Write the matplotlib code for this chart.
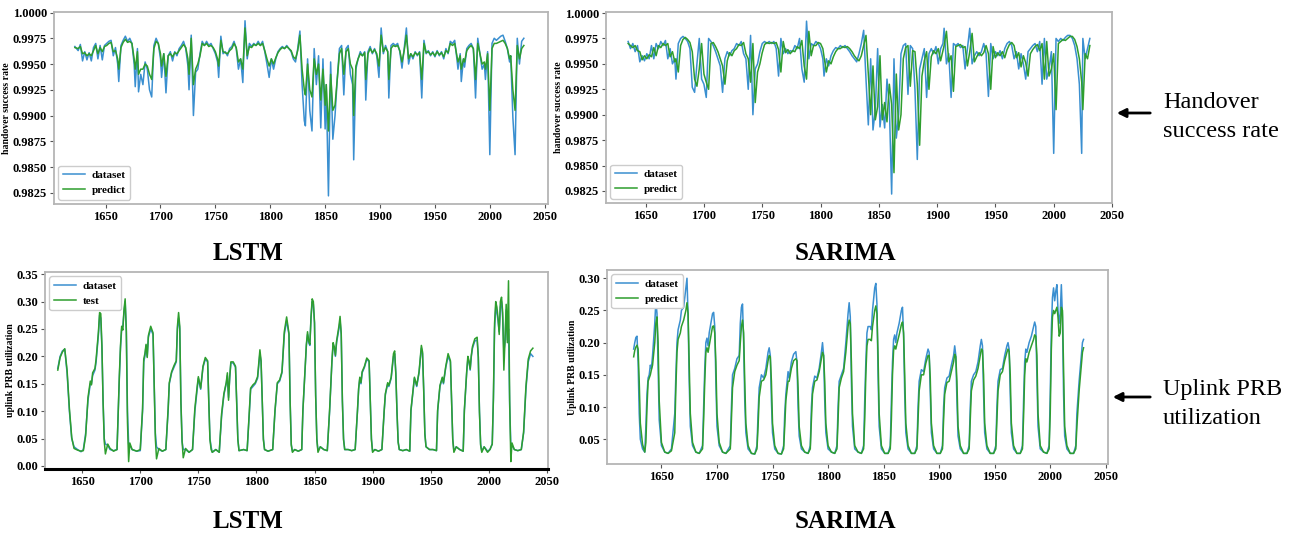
import matplotlib
matplotlib.use("Agg")
import matplotlib.pyplot as plt
from matplotlib.patches import FancyArrowPatch
from matplotlib.ticker import FormatStrFormatter, MultipleLocator

plt.rcParams['font.family'] = ['Liberation Serif', 'DejaVu Serif']

BLUE = '#3a8fd0'
GREEN = '#2e9e2e'

# ---- handover success rate, LSTM ----
ho_lstm_x = [1622, 1625, 1627, 1629, 1631, 1633, 1635, 1637, 1639, 1641,
             1643, 1645, 1647, 1649, 1651, 1653, 1655, 1657, 1659, 1661,
             1662, 1664, 1666, 1668, 1670, 1672, 1674, 1676, 1677, 1679,
             1680, 1682, 1684, 1686, 1688, 1690, 1692, 1694, 1696, 1698,
             1700, 1701, 1703, 1705, 1707, 1709, 1711, 1713, 1715, 1717,
             1719, 1721, 1723, 1725, 1726, 1728, 1730, 1732, 1734, 1736,
             1738, 1740, 1742, 1744, 1746, 1748, 1750, 1752, 1753, 1755,
             1757, 1759, 1761, 1763, 1765, 1767, 1769, 1771, 1773, 1775,
             1777, 1779, 1781, 1783, 1785, 1787, 1789, 1791, 1793, 1795,
             1797, 1799, 1801, 1803, 1805, 1807, 1809, 1811, 1813, 1815,
             1817, 1819, 1821, 1823, 1825, 1827, 1829, 1831, 1832, 1834,
             1836, 1838, 1840, 1842, 1844, 1846, 1848, 1850, 1851, 1853,
             1855, 1857, 1859, 1861, 1863, 1865, 1867, 1869, 1871, 1873,
             1875, 1876, 1878, 1880, 1882, 1884, 1886, 1887, 1889, 1891,
             1893, 1895, 1897, 1899, 1901, 1903, 1905, 1907, 1908, 1910,
             1912, 1914, 1916, 1918, 1920, 1922, 1924, 1926, 1928, 1930,
             1932, 1934, 1936, 1938, 1940, 1942, 1944, 1946, 1948, 1950,
             1952, 1954, 1956, 1958, 1960, 1962, 1964, 1966, 1968, 1970,
             1971, 1973, 1974, 1976, 1977, 1979, 1981, 1983, 1985, 1987,
             1989, 1991, 1993, 1995, 1996, 1998, 2000, 2002, 2004, 2006,
             2008, 2010, 2012, 2014, 2016, 2018, 2019, 2021, 2023, 2025,
             2027, 2029, 2031]
ho_lstm_data = [0.9967, 0.9963, 0.9969, 0.9953, 0.9962, 0.9954, 0.9961, 0.9953, 0.9966, 0.9970,
                0.9955, 0.9968, 0.9954, 0.9968, 0.9970, 0.9972, 0.9973, 0.9958, 0.9966, 0.9950,
                0.9933, 0.9968, 0.9973, 0.9977, 0.9972, 0.9975, 0.9970, 0.9950, 0.9928, 0.9965,
                0.9923, 0.9940, 0.9930, 0.9952, 0.9945, 0.9925, 0.9918, 0.9968, 0.9975, 0.9970,
                0.9955, 0.9937, 0.9960, 0.9922, 0.9958, 0.9962, 0.9953, 0.9962, 0.9958, 0.9965,
                0.9968, 0.9972, 0.9965, 0.9948, 0.9925, 0.9978, 0.9900, 0.9942, 0.9945, 0.9960,
                0.9972, 0.9968, 0.9972, 0.9968, 0.9970, 0.9965, 0.9960, 0.9952, 0.9937, 0.9977,
                0.9960, 0.9962, 0.9958, 0.9965, 0.9967, 0.9972, 0.9965, 0.9945, 0.9955, 0.9932,
                0.9992, 0.9955, 0.9970, 0.9967, 0.9970, 0.9968, 0.9972, 0.9968, 0.9972, 0.9962,
                0.9950, 0.9937, 0.9955, 0.9945, 0.9955, 0.9962, 0.9965, 0.9967, 0.9965, 0.9968,
                0.9965, 0.9962, 0.9955, 0.9952, 0.9965, 0.9982, 0.9930, 0.9895, 0.9890, 0.9955,
                0.9905, 0.9885, 0.9965, 0.9930, 0.9958, 0.9888, 0.9955, 0.9887, 0.9930, 0.9822,
                0.9952, 0.9877, 0.9900, 0.9935, 0.9965, 0.9968, 0.9920, 0.9965, 0.9968, 0.9940,
                0.9930, 0.9857, 0.9945, 0.9955, 0.9962, 0.9958, 0.9962, 0.9915, 0.9962, 0.9967,
                0.9960, 0.9965, 0.9958, 0.9937, 0.9985, 0.9960, 0.9968, 0.9962, 0.9917, 0.9968,
                0.9970, 0.9968, 0.9970, 0.9962, 0.9946, 0.9965, 0.9985, 0.9950, 0.9960, 0.9955,
                0.9962, 0.9958, 0.9962, 0.9917, 0.9973, 0.9960, 0.9963, 0.9958, 0.9962, 0.9957,
                0.9963, 0.9958, 0.9962, 0.9955, 0.9965, 0.9960, 0.9972, 0.9970, 0.9973, 0.9955,
                0.9945, 0.9960, 0.9933, 0.9955, 0.9947, 0.9965, 0.9968, 0.9970, 0.9965, 0.9917,
                0.9975, 0.9960, 0.9945, 0.9950, 0.9935, 0.9962, 0.9862, 0.9970, 0.9975, 0.9973,
                0.9975, 0.9977, 0.9978, 0.9972, 0.9965, 0.9952, 0.9958, 0.9898, 0.9862, 0.9975,
                0.9950, 0.9972, 0.9975]
ho_lstm_pred = [0.9966, 0.9965, 0.9967, 0.9960, 0.9961, 0.9958, 0.9960, 0.9958, 0.9963, 0.9968,
                0.9960, 0.9966, 0.9962, 0.9967, 0.9968, 0.9970, 0.9971, 0.9962, 0.9963, 0.9955,
                0.9945, 0.9966, 0.9971, 0.9974, 0.9971, 0.9972, 0.9970, 0.9955, 0.9945, 0.9962,
                0.9940, 0.9945, 0.9945, 0.9950, 0.9948, 0.9940, 0.9935, 0.9965, 0.9972, 0.9970,
                0.9960, 0.9948, 0.9960, 0.9938, 0.9958, 0.9960, 0.9957, 0.9961, 0.9960, 0.9963,
                0.9966, 0.9969, 0.9966, 0.9955, 0.9940, 0.9975, 0.9930, 0.9945, 0.9950, 0.9958,
                0.9970, 0.9968, 0.9970, 0.9967, 0.9968, 0.9966, 0.9962, 0.9955, 0.9948, 0.9973,
                0.9962, 0.9961, 0.9960, 0.9963, 0.9965, 0.9970, 0.9966, 0.9952, 0.9955, 0.9945,
                0.9985, 0.9958, 0.9967, 0.9966, 0.9969, 0.9968, 0.9970, 0.9968, 0.9970, 0.9963,
                0.9955, 0.9948, 0.9955, 0.9950, 0.9956, 0.9961, 0.9964, 0.9966, 0.9965, 0.9967,
                0.9965, 0.9963, 0.9957, 0.9955, 0.9963, 0.9978, 0.9945, 0.9925, 0.9920, 0.9950,
                0.9925, 0.9918, 0.9955, 0.9940, 0.9950, 0.9915, 0.9945, 0.9910, 0.9930, 0.9885,
                0.9940, 0.9905, 0.9910, 0.9935, 0.9960, 0.9965, 0.9940, 0.9962, 0.9965, 0.9950,
                0.9945, 0.9900, 0.9948, 0.9955, 0.9960, 0.9958, 0.9961, 0.9935, 0.9960, 0.9965,
                0.9961, 0.9964, 0.9960, 0.9948, 0.9978, 0.9962, 0.9966, 0.9962, 0.9935, 0.9965,
                0.9968, 0.9967, 0.9968, 0.9963, 0.9952, 0.9963, 0.9978, 0.9955, 0.9960, 0.9957,
                0.9961, 0.9959, 0.9961, 0.9935, 0.9970, 0.9961, 0.9962, 0.9959, 0.9961, 0.9958,
                0.9962, 0.9959, 0.9961, 0.9957, 0.9963, 0.9961, 0.9970, 0.9968, 0.9970, 0.9958,
                0.9952, 0.9958, 0.9945, 0.9955, 0.9952, 0.9963, 0.9966, 0.9968, 0.9965, 0.9935,
                0.9970, 0.9960, 0.9950, 0.9952, 0.9945, 0.9960, 0.9905, 0.9965, 0.9970, 0.9970,
                0.9971, 0.9972, 0.9973, 0.9970, 0.9965, 0.9955, 0.9958, 0.9925, 0.9905, 0.9968,
                0.9955, 0.9965, 0.9968]

# ---- handover success rate, SARIMA ----
ho_sar_x = [1635, 1637, 1639, 1641, 1643, 1645, 1647, 1649, 1651, 1653,
            1655, 1657, 1659, 1661, 1663, 1665, 1667, 1669, 1671, 1673,
            1675, 1676, 1678, 1680, 1682, 1684, 1686, 1688, 1690, 1692,
            1694, 1696, 1698, 1700, 1702, 1704, 1706, 1708, 1710, 1712,
            1714, 1716, 1718, 1720, 1722, 1724, 1726, 1728, 1730, 1732,
            1734, 1736, 1738, 1740, 1742, 1744, 1746, 1748, 1750, 1752,
            1754, 1756, 1758, 1760, 1762, 1764, 1766, 1768, 1770, 1772,
            1774, 1776, 1778, 1780, 1782, 1784, 1786, 1788, 1790, 1792,
            1794, 1796, 1798, 1800, 1802, 1803, 1805, 1807, 1809, 1811,
            1813, 1815, 1817, 1819, 1821, 1823, 1825, 1827, 1829, 1831,
            1833, 1835, 1837, 1839, 1841, 1843, 1845, 1847, 1849, 1851,
            1853, 1855, 1857, 1859, 1861, 1863, 1865, 1867, 1869, 1871,
            1873, 1875, 1877, 1879, 1881, 1883, 1885, 1887, 1889, 1891,
            1893, 1895, 1897, 1899, 1901, 1903, 1905, 1906, 1908, 1910,
            1912, 1914, 1916, 1918, 1920, 1922, 1924, 1926, 1928, 1930,
            1932, 1934, 1936, 1938, 1940, 1942, 1944, 1946, 1948, 1950,
            1952, 1954, 1956, 1958, 1960, 1962, 1964, 1966, 1968, 1970,
            1972, 1974, 1976, 1978, 1980, 1982, 1984, 1986, 1988, 1990,
            1992, 1994, 1996, 1998, 2000, 2002, 2004, 2006, 2008, 2010,
            2012, 2014, 2016, 2018, 2020, 2022, 2024, 2025, 2027, 2029,
            2031]
ho_sar_data = [0.9972, 0.9965, 0.9970, 0.9962, 0.9968, 0.9952, 0.9958, 0.9953, 0.9960, 0.9955,
               0.9968, 0.9955, 0.9970, 0.9965, 0.9972, 0.9968, 0.9973, 0.9955, 0.9965, 0.9950,
               0.9955, 0.9935, 0.9970, 0.9975, 0.9977, 0.9975, 0.9972, 0.9965, 0.9927, 0.9922,
               0.9950, 0.9975, 0.9935, 0.9930, 0.9917, 0.9975, 0.9972, 0.9968, 0.9962, 0.9955,
               0.9948, 0.9922, 0.9955, 0.9962, 0.9958, 0.9963, 0.9965, 0.9970, 0.9968, 0.9972,
               0.9960, 0.9955, 0.9925, 0.9978, 0.9900, 0.9945, 0.9950, 0.9962, 0.9970, 0.9972,
               0.9970, 0.9972, 0.9970, 0.9972, 0.9965, 0.9938, 0.9975, 0.9960, 0.9965, 0.9960,
               0.9963, 0.9962, 0.9968, 0.9965, 0.9975, 0.9945, 0.9932, 0.9992, 0.9955, 0.9970,
               0.9968, 0.9972, 0.9970, 0.9965, 0.9955, 0.9938, 0.9955, 0.9948, 0.9958, 0.9963,
               0.9966, 0.9965, 0.9968, 0.9966, 0.9968, 0.9965, 0.9962, 0.9958, 0.9955, 0.9952,
               0.9960, 0.9970, 0.9983, 0.9935, 0.9890, 0.9955, 0.9885, 0.9905, 0.9965, 0.9888,
               0.9910, 0.9887, 0.9935, 0.9910, 0.9822, 0.9955, 0.9877, 0.9900, 0.9960, 0.9968,
               0.9970, 0.9920, 0.9968, 0.9965, 0.9925, 0.9856, 0.9945, 0.9955, 0.9965, 0.9917,
               0.9960, 0.9965, 0.9960, 0.9967, 0.9950, 0.9965, 0.9970, 0.9985, 0.9950, 0.9960,
               0.9917, 0.9970, 0.9968, 0.9970, 0.9966, 0.9968, 0.9945, 0.9965, 0.9985, 0.9950,
               0.9958, 0.9962, 0.9958, 0.9962, 0.9970, 0.9960, 0.9918, 0.9970, 0.9955, 0.9962,
               0.9958, 0.9963, 0.9955, 0.9965, 0.9970, 0.9972, 0.9968, 0.9955, 0.9962, 0.9945,
               0.9960, 0.9950, 0.9935, 0.9962, 0.9965, 0.9968, 0.9970, 0.9962, 0.9972, 0.9930,
               0.9975, 0.9935, 0.9945, 0.9962, 0.9862, 0.9975, 0.9972, 0.9975, 0.9973, 0.9976,
               0.9978, 0.9978, 0.9975, 0.9968, 0.9955, 0.9930, 0.9862, 0.9975, 0.9955, 0.9965,
               0.9975]
ho_sar_pred = [0.9970, 0.9968, 0.9966, 0.9968, 0.9963, 0.9962, 0.9954, 0.9958, 0.9955, 0.9959,
               0.9957, 0.9966, 0.9958, 0.9968, 0.9966, 0.9970, 0.9968, 0.9970, 0.9957, 0.9962,
               0.9952, 0.9955, 0.9942, 0.9968, 0.9974, 0.9976, 0.9974, 0.9971, 0.9962, 0.9935,
               0.9928, 0.9945, 0.9970, 0.9940, 0.9932, 0.9925, 0.9970, 0.9971, 0.9967, 0.9962,
               0.9955, 0.9948, 0.9930, 0.9953, 0.9961, 0.9958, 0.9963, 0.9965, 0.9969, 0.9968,
               0.9971, 0.9960, 0.9955, 0.9932, 0.9970, 0.9912, 0.9942, 0.9950, 0.9961, 0.9969,
               0.9971, 0.9970, 0.9971, 0.9970, 0.9971, 0.9964, 0.9942, 0.9972, 0.9961, 0.9964,
               0.9960, 0.9963, 0.9962, 0.9967, 0.9965, 0.9973, 0.9948, 0.9935, 0.9982, 0.9958,
               0.9968, 0.9968, 0.9971, 0.9970, 0.9965, 0.9957, 0.9942, 0.9953, 0.9950, 0.9957,
               0.9962, 0.9965, 0.9965, 0.9967, 0.9966, 0.9967, 0.9965, 0.9962, 0.9958, 0.9955,
               0.9953, 0.9958, 0.9968, 0.9978, 0.9940, 0.9900, 0.9948, 0.9895, 0.9908, 0.9958,
               0.9895, 0.9912, 0.9893, 0.9930, 0.9910, 0.9843, 0.9940, 0.9885, 0.9900, 0.9955,
               0.9966, 0.9968, 0.9928, 0.9963, 0.9962, 0.9930, 0.9870, 0.9938, 0.9953, 0.9962,
               0.9925, 0.9957, 0.9963, 0.9960, 0.9965, 0.9953, 0.9963, 0.9968, 0.9982, 0.9952,
               0.9958, 0.9923, 0.9967, 0.9968, 0.9969, 0.9966, 0.9967, 0.9948, 0.9962, 0.9980,
               0.9952, 0.9957, 0.9961, 0.9958, 0.9961, 0.9968, 0.9960, 0.9925, 0.9967, 0.9956,
               0.9961, 0.9958, 0.9962, 0.9956, 0.9964, 0.9969, 0.9971, 0.9968, 0.9956, 0.9961,
               0.9947, 0.9958, 0.9951, 0.9938, 0.9960, 0.9964, 0.9967, 0.9969, 0.9963, 0.9970,
               0.9935, 0.9972, 0.9938, 0.9945, 0.9960, 0.9905, 0.9970, 0.9972, 0.9974, 0.9973,
               0.9975, 0.9977, 0.9977, 0.9974, 0.9967, 0.9955, 0.9932, 0.9905, 0.9960, 0.9955,
               0.9968]

# ---- uplink PRB utilization, LSTM ----
prb_lstm_x = [1629, 1631, 1633, 1635, 1637, 1639, 1641, 1643, 1646, 1649, 1651, 1653,
              1655, 1657, 1658, 1659, 1661, 1662, 1664, 1665, 1666, 1667, 1668, 1669, 1670, 1672, 1674, 1677, 1680,
              1681, 1682, 1683, 1684, 1685, 1686, 1687, 1688, 1689, 1690, 1691, 1693, 1697, 1700,
              1702, 1703, 1704, 1705, 1706, 1707, 1709, 1711, 1712, 1713, 1714, 1716, 1719, 1722,
              1724, 1725, 1727, 1729, 1731, 1732, 1733, 1734, 1735, 1736, 1737, 1739, 1742, 1745,
              1747, 1749, 1750, 1752, 1754, 1756, 1758, 1759, 1760, 1761, 1762, 1765, 1768,
              1770, 1772, 1774, 1775, 1776, 1777, 1778, 1780, 1782, 1783, 1784, 1785, 1789, 1792,
              1794, 1795, 1797, 1799, 1801, 1803, 1804, 1805, 1806, 1807, 1810, 1814,
              1816, 1818, 1820, 1822, 1824, 1826, 1828, 1829, 1830, 1831, 1833, 1836, 1839,
              1840, 1842, 1843, 1844, 1845, 1846, 1847, 1848, 1849, 1850, 1851, 1852, 1853, 1855, 1858, 1861,
              1863, 1865, 1866, 1867, 1868, 1869, 1871, 1872, 1873, 1874, 1875, 1876, 1879, 1882, 1885,
              1887, 1888, 1889, 1890, 1891, 1893, 1895, 1897, 1898, 1899, 1900, 1902, 1905, 1908,
              1910, 1911, 1913, 1914, 1916, 1918, 1919, 1920, 1921, 1922, 1923, 1926, 1929, 1932,
              1933, 1935, 1936, 1938, 1940, 1942, 1943, 1944, 1945, 1946, 1949, 1952, 1955,
              1956, 1958, 1960, 1961, 1963, 1965, 1967, 1968, 1969, 1970, 1972, 1975, 1978,
              1979, 1981, 1982, 1983, 1984, 1985, 1986, 1988, 1990, 1991, 1992, 1993, 1994, 1996, 1999, 2001, 2003,
              2004, 2005, 2006, 2007, 2008, 2009, 2010, 2011, 2012, 2013, 2014, 2015, 2016, 2017, 2018, 2019,
              2020, 2022, 2025, 2028, 2030, 2032, 2034, 2036, 2038]
prb_lstm_data = [0.178, 0.200, 0.210, 0.213, 0.170, 0.100, 0.050, 0.035, 0.030, 0.026, 0.030, 0.060,
                 0.120, 0.150, 0.150, 0.165, 0.175, 0.190, 0.240, 0.275, 0.270, 0.215, 0.120, 0.050, 0.040, 0.038, 0.030, 0.028, 0.030,
                 0.095, 0.160, 0.215, 0.250, 0.255, 0.280, 0.300, 0.250, 0.100, 0.040, 0.038, 0.030, 0.027, 0.028,
                 0.100, 0.190, 0.200, 0.220, 0.200, 0.235, 0.250, 0.240, 0.150, 0.060, 0.035, 0.030, 0.027, 0.030,
                 0.100, 0.150, 0.170, 0.180, 0.190, 0.250, 0.270, 0.250, 0.120, 0.045, 0.030, 0.030, 0.025, 0.030,
                 0.100, 0.140, 0.160, 0.140, 0.180, 0.195, 0.190, 0.120, 0.050, 0.035, 0.025, 0.030, 0.025,
                 0.090, 0.130, 0.150, 0.165, 0.125, 0.160, 0.188, 0.188, 0.180, 0.120, 0.050, 0.028, 0.030, 0.028,
                 0.100, 0.140, 0.145, 0.150, 0.160, 0.205, 0.190, 0.120, 0.050, 0.030, 0.027, 0.030,
                 0.100, 0.150, 0.155, 0.170, 0.240, 0.265, 0.240, 0.120, 0.040, 0.027, 0.030, 0.027, 0.030,
                 0.100, 0.180, 0.220, 0.240, 0.225, 0.220, 0.270, 0.300, 0.295, 0.260, 0.130, 0.050, 0.028, 0.035, 0.030, 0.028,
                 0.100, 0.190, 0.220, 0.215, 0.200, 0.225, 0.250, 0.265, 0.240, 0.120, 0.050, 0.030, 0.030, 0.028, 0.030,
                 0.100, 0.140, 0.160, 0.150, 0.170, 0.180, 0.195, 0.190, 0.120, 0.050, 0.027, 0.030, 0.027, 0.030,
                 0.100, 0.130, 0.150, 0.145, 0.160, 0.200, 0.205, 0.170, 0.100, 0.045, 0.030, 0.028, 0.030, 0.027,
                 0.100, 0.140, 0.160, 0.145, 0.170, 0.215, 0.205, 0.140, 0.060, 0.035, 0.030, 0.030, 0.028,
                 0.100, 0.145, 0.160, 0.150, 0.180, 0.200, 0.190, 0.120, 0.050, 0.027, 0.035, 0.030, 0.027,
                 0.100, 0.170, 0.195, 0.190, 0.175, 0.200, 0.215, 0.228, 0.230, 0.200, 0.100, 0.040, 0.027, 0.035, 0.027, 0.030, 0.040,
                 0.120, 0.250, 0.290, 0.280, 0.265, 0.245, 0.290, 0.300, 0.270, 0.210, 0.225, 0.285, 0.230, 0.250, 0.110, 0.040,
                 0.038, 0.030, 0.028, 0.030, 0.060, 0.140, 0.190, 0.205, 0.200]
prb_lstm_test = [0.175, 0.198, 0.208, 0.214, 0.175, 0.105, 0.052, 0.032, 0.029, 0.027, 0.028, 0.055,
                 0.125, 0.155, 0.148, 0.170, 0.178, 0.195, 0.245, 0.280, 0.278, 0.220, 0.115, 0.045, 0.022, 0.040, 0.032, 0.027, 0.030,
                 0.100, 0.165, 0.220, 0.255, 0.248, 0.285, 0.305, 0.245, 0.080, 0.008, 0.042, 0.030, 0.027, 0.030,
                 0.105, 0.195, 0.205, 0.222, 0.198, 0.238, 0.255, 0.243, 0.145, 0.050, 0.013, 0.032, 0.027, 0.030,
                 0.105, 0.152, 0.172, 0.183, 0.192, 0.255, 0.280, 0.255, 0.115, 0.045, 0.015, 0.032, 0.025, 0.030,
                 0.105, 0.145, 0.163, 0.142, 0.182, 0.198, 0.192, 0.115, 0.048, 0.030, 0.025, 0.030, 0.025,
                 0.095, 0.132, 0.152, 0.170, 0.120, 0.163, 0.190, 0.190, 0.182, 0.118, 0.048, 0.028, 0.030, 0.028,
                 0.102, 0.142, 0.148, 0.152, 0.163, 0.212, 0.192, 0.118, 0.048, 0.030, 0.027, 0.030,
                 0.102, 0.152, 0.157, 0.172, 0.245, 0.272, 0.242, 0.118, 0.038, 0.025, 0.030, 0.027, 0.030,
                 0.102, 0.182, 0.222, 0.245, 0.228, 0.222, 0.272, 0.305, 0.300, 0.262, 0.128, 0.048, 0.025, 0.035, 0.030, 0.028,
                 0.102, 0.192, 0.225, 0.218, 0.202, 0.228, 0.255, 0.273, 0.242, 0.118, 0.048, 0.030, 0.030, 0.028, 0.030,
                 0.102, 0.142, 0.162, 0.152, 0.172, 0.182, 0.197, 0.192, 0.118, 0.048, 0.025, 0.030, 0.027, 0.030,
                 0.102, 0.132, 0.152, 0.147, 0.162, 0.205, 0.210, 0.168, 0.098, 0.043, 0.030, 0.028, 0.030, 0.027,
                 0.102, 0.142, 0.162, 0.147, 0.172, 0.220, 0.208, 0.138, 0.058, 0.035, 0.030, 0.030, 0.028,
                 0.102, 0.147, 0.162, 0.152, 0.182, 0.205, 0.192, 0.118, 0.048, 0.025, 0.035, 0.030, 0.027,
                 0.102, 0.172, 0.200, 0.192, 0.177, 0.202, 0.218, 0.232, 0.235, 0.198, 0.098, 0.038, 0.025, 0.035, 0.025, 0.030, 0.040,
                 0.125, 0.260, 0.300, 0.290, 0.270, 0.240, 0.300, 0.308, 0.280, 0.175, 0.230, 0.295, 0.225, 0.338, 0.120, 0.008,
                 0.042, 0.030, 0.028, 0.030, 0.062, 0.145, 0.195, 0.210, 0.215]

# ---- uplink PRB utilization, SARIMA ----
prb_sar_x = [1625, 1626, 1627, 1628, 1629, 1630, 1631, 1633, 1635,
             1636, 1637, 1638, 1639, 1640, 1641, 1642, 1644, 1645, 1646, 1647, 1648, 1650, 1653, 1656, 1659,
             1662, 1663, 1664, 1665, 1667, 1668, 1670, 1672, 1673, 1674, 1675, 1676, 1678, 1681, 1684,
             1687, 1688, 1689, 1690, 1691, 1692, 1693, 1695, 1696, 1697, 1698, 1699, 1700, 1702, 1705, 1708,
             1712, 1713, 1714, 1716, 1718, 1720, 1721, 1722, 1723, 1724, 1725, 1726, 1728, 1731, 1734,
             1736, 1737, 1738, 1740, 1742, 1744, 1746, 1747, 1748, 1749, 1750, 1752, 1755, 1758,
             1760, 1761, 1762, 1764, 1765, 1767, 1769, 1771, 1772, 1773, 1774, 1776, 1779, 1782,
             1784, 1785, 1786, 1788, 1790, 1792, 1794, 1795, 1796, 1797, 1798, 1800, 1803, 1806,
             1808, 1809, 1810, 1812, 1814, 1816, 1818, 1819, 1820, 1821, 1822, 1824, 1827, 1830,
             1832, 1833, 1834, 1835, 1836, 1838, 1839, 1840, 1842, 1843, 1844, 1845, 1846, 1848, 1851, 1854,
             1856, 1857, 1858, 1859, 1860, 1861, 1862, 1864, 1866, 1867, 1868, 1869, 1870, 1872, 1875, 1878,
             1880, 1881, 1882, 1884, 1886, 1888, 1890, 1891, 1892, 1893, 1895, 1898, 1901,
             1903, 1904, 1905, 1907, 1909, 1911, 1913, 1914, 1915, 1916, 1917, 1919, 1922, 1925,
             1927, 1928, 1929, 1931, 1933, 1935, 1937, 1938, 1939, 1940, 1941, 1943, 1946, 1949,
             1951, 1952, 1953, 1955, 1957, 1959, 1961, 1962, 1963, 1964, 1965, 1967, 1970, 1973,
             1975, 1976, 1977, 1978, 1979, 1981, 1983, 1985, 1986, 1987, 1988, 1989, 1991, 1994, 1997,
             1999, 2000, 2001, 2002, 2003, 2004, 2005, 2006, 2007, 2008, 2009, 2010, 2011, 2012, 2013, 2015, 2018, 2021,
             2023, 2024, 2026, 2028, 2029, 2030]
prb_sar_data = [0.190, 0.200, 0.208, 0.210, 0.170, 0.090, 0.050, 0.035, 0.030,
                0.070, 0.120, 0.145, 0.150, 0.165, 0.160, 0.180, 0.230, 0.265, 0.245, 0.160, 0.080, 0.040, 0.030, 0.028, 0.035,
                0.090, 0.150, 0.200, 0.220, 0.235, 0.250, 0.255, 0.285, 0.300, 0.240, 0.140, 0.070, 0.040, 0.030, 0.028,
                0.040, 0.100, 0.160, 0.200, 0.207, 0.195, 0.215, 0.235, 0.245, 0.247, 0.225, 0.140, 0.070, 0.040, 0.030, 0.028,
                0.040, 0.100, 0.150, 0.160, 0.175, 0.180, 0.230, 0.255, 0.260, 0.200, 0.110, 0.060, 0.035, 0.028, 0.027,
                0.040, 0.090, 0.130, 0.150, 0.145, 0.160, 0.185, 0.192, 0.180, 0.110, 0.060, 0.035, 0.028, 0.027,
                0.040, 0.090, 0.120, 0.155, 0.145, 0.170, 0.182, 0.186, 0.170, 0.100, 0.055, 0.035, 0.030, 0.028,
                0.040, 0.100, 0.130, 0.148, 0.145, 0.160, 0.185, 0.200, 0.180, 0.110, 0.060, 0.035, 0.030, 0.028,
                0.040, 0.100, 0.140, 0.150, 0.160, 0.200, 0.245, 0.262, 0.240, 0.140, 0.070, 0.035, 0.030, 0.028,
                0.040, 0.110, 0.170, 0.215, 0.225, 0.225, 0.220, 0.250, 0.285, 0.292, 0.260, 0.150, 0.070, 0.035, 0.028, 0.028,
                0.040, 0.110, 0.170, 0.205, 0.212, 0.200, 0.215, 0.230, 0.250, 0.255, 0.210, 0.120, 0.060, 0.035, 0.028, 0.028,
                0.040, 0.100, 0.140, 0.158, 0.155, 0.175, 0.190, 0.185, 0.120, 0.060, 0.035, 0.028, 0.028,
                0.040, 0.100, 0.130, 0.145, 0.148, 0.165, 0.180, 0.195, 0.180, 0.110, 0.055, 0.035, 0.028, 0.028,
                0.040, 0.100, 0.140, 0.150, 0.155, 0.170, 0.195, 0.205, 0.195, 0.120, 0.060, 0.035, 0.028, 0.028,
                0.040, 0.100, 0.140, 0.158, 0.160, 0.180, 0.195, 0.200, 0.190, 0.120, 0.060, 0.035, 0.028, 0.028,
                0.040, 0.110, 0.170, 0.190, 0.185, 0.200, 0.210, 0.225, 0.232, 0.225, 0.150, 0.070, 0.035, 0.030, 0.028,
                0.040, 0.120, 0.220, 0.270, 0.285, 0.265, 0.280, 0.290, 0.250, 0.230, 0.245, 0.290, 0.240, 0.120, 0.055, 0.035, 0.028, 0.028,
                0.040, 0.090, 0.140, 0.180, 0.200, 0.205]
prb_sar_pred = [0.178, 0.188, 0.193, 0.196, 0.190, 0.140, 0.075, 0.042, 0.030,
                0.045, 0.100, 0.140, 0.145, 0.150, 0.158, 0.165, 0.200, 0.230, 0.240, 0.200, 0.110, 0.045, 0.030, 0.028, 0.032,
                0.060, 0.130, 0.185, 0.205, 0.215, 0.225, 0.235, 0.250, 0.262, 0.245, 0.170, 0.090, 0.045, 0.030, 0.028,
                0.035, 0.080, 0.140, 0.185, 0.192, 0.185, 0.195, 0.215, 0.225, 0.226, 0.215, 0.170, 0.090, 0.045, 0.030, 0.028,
                0.035, 0.080, 0.130, 0.155, 0.165, 0.172, 0.200, 0.225, 0.235, 0.215, 0.140, 0.075, 0.040, 0.028, 0.027,
                0.035, 0.070, 0.115, 0.140, 0.142, 0.150, 0.172, 0.180, 0.178, 0.140, 0.075, 0.040, 0.028, 0.027,
                0.035, 0.070, 0.110, 0.140, 0.140, 0.160, 0.172, 0.175, 0.172, 0.130, 0.070, 0.040, 0.030, 0.028,
                0.035, 0.080, 0.120, 0.140, 0.142, 0.155, 0.175, 0.185, 0.180, 0.140, 0.075, 0.040, 0.030, 0.028,
                0.035, 0.080, 0.130, 0.145, 0.155, 0.185, 0.225, 0.235, 0.230, 0.170, 0.090, 0.040, 0.030, 0.028,
                0.035, 0.080, 0.150, 0.195, 0.205, 0.205, 0.203, 0.225, 0.250, 0.257, 0.245, 0.180, 0.090, 0.040, 0.028, 0.028,
                0.035, 0.080, 0.150, 0.188, 0.195, 0.190, 0.198, 0.212, 0.228, 0.232, 0.215, 0.150, 0.075, 0.040, 0.028, 0.028,
                0.035, 0.080, 0.125, 0.150, 0.150, 0.168, 0.180, 0.180, 0.145, 0.075, 0.040, 0.028, 0.028,
                0.035, 0.080, 0.120, 0.138, 0.140, 0.155, 0.170, 0.182, 0.178, 0.140, 0.070, 0.040, 0.028, 0.028,
                0.035, 0.080, 0.125, 0.142, 0.148, 0.160, 0.180, 0.190, 0.188, 0.150, 0.075, 0.040, 0.028, 0.028,
                0.035, 0.080, 0.125, 0.150, 0.155, 0.172, 0.185, 0.190, 0.186, 0.150, 0.075, 0.040, 0.028, 0.028,
                0.035, 0.085, 0.150, 0.175, 0.170, 0.185, 0.195, 0.205, 0.212, 0.210, 0.180, 0.090, 0.040, 0.030, 0.028,
                0.035, 0.090, 0.190, 0.240, 0.250, 0.245, 0.250, 0.255, 0.240, 0.210, 0.215, 0.255, 0.250, 0.160, 0.070, 0.040, 0.028, 0.028,
                0.035, 0.070, 0.125, 0.165, 0.185, 0.192]

W, H = 1295, 540
fig = plt.figure(figsize=(W / 100, H / 100), dpi=100)


def axes_px(left, top, right, bottom):
    return fig.add_axes([left / W, 1 - bottom / H, (right - left) / W, (bottom - top) / H])


def style(ax, fmt, step, ylab):
    for s in ax.spines.values():
        s.set_color('#b5b5b5')
        s.set_linewidth(1.3)
    ax.xaxis.set_major_locator(MultipleLocator(50))
    ax.yaxis.set_major_locator(MultipleLocator(step))
    ax.yaxis.set_major_formatter(FormatStrFormatter(fmt))
    ax.tick_params(labelsize=9, length=3, width=0.8, pad=2, color='#555555')
    for lab in ax.get_xticklabels() + ax.get_yticklabels():
        lab.set_fontweight('bold')
    ax.set_ylabel(ylab, fontsize=7, fontweight='bold', labelpad=1)


leg_kw = dict(prop={'weight': 'bold', 'size': 8}, handlelength=2.0, handletextpad=0.6,
              borderpad=0.4, borderaxespad=0.4, labelspacing=0.5,
              edgecolor='#cccccc', fancybox=True, framealpha=1)

# top left
ax1 = axes_px(54, 12, 548, 204)
ax1.plot(ho_lstm_x, ho_lstm_data, color=BLUE, lw=1.1, label='dataset')
ax1.plot(ho_lstm_x, ho_lstm_pred, color=GREEN, lw=1.1, label='predict')
ax1.set_xlim(1603, 2053)
ax1.set_ylim(0.98141, 1.00005)
style(ax1, '%.4f', 0.0025, 'handover success rate')
ax1.legend(loc='lower left', **leg_kw)

# top right
ax2 = axes_px(606, 12, 1112, 203)
ax2.plot(ho_sar_x, ho_sar_data, color=BLUE, lw=1.1, label='dataset')
ax2.plot(ho_sar_x, ho_sar_pred, color=GREEN, lw=1.1, label='predict')
ax2.set_xlim(1616, 2050)
ax2.set_ylim(0.98132, 1.0001)
style(ax2, '%.4f', 0.0025, 'handover success rate')
ax2.legend(loc='lower left', **leg_kw)

# bottom left
ax3 = axes_px(45, 272, 548, 469)
ax3.plot(prb_lstm_x, prb_lstm_data, color=BLUE, lw=1.1, label='dataset')
ax3.plot(prb_lstm_x, prb_lstm_test, color=GREEN, lw=1.1, label='test')
ax3.set_xlim(1618, 2051)
ax3.set_ylim(-0.0055, 0.354)
style(ax3, '%.2f', 0.05, 'uplink PRB utilization')
ax3.spines['bottom'].set_color('black')
ax3.spines['bottom'].set_linewidth(2.2)
ax3.legend(loc='upper left', **leg_kw)

# bottom right
ax4 = axes_px(607, 270, 1108, 464)
ax4.plot(prb_sar_x, prb_sar_data, color=BLUE, lw=1.1, label='dataset')
ax4.plot(prb_sar_x, prb_sar_pred, color=GREEN, lw=1.1, label='predict')
ax4.set_xlim(1601, 2052)
ax4.set_ylim(0.0115, 0.3128)
style(ax4, '%.2f', 0.05, 'Uplink PRB utilization')
ax4.legend(loc='upper left', **leg_kw)

# model captions under each panel
for x, y, t in [(248, 253, 'LSTM'), (845, 253, 'SARIMA'), (248, 521, 'LSTM'), (845, 521, 'SARIMA')]:
    fig.text(x / W, 1 - y / H, t, ha='center', va='center', fontsize=18, fontweight='bold')

# metric names with arrows on the right
for y_arrow, x_end, lines, y0 in [(113, 1114, ['Handover', 'success rate'], 108),
                                   (397, 1110, ['Uplink PRB', 'utilization'], 395)]:
    fig.add_artist(FancyArrowPatch((1153 / W, 1 - y_arrow / H), (x_end / W, 1 - y_arrow / H),
                                   transform=fig.transFigure, arrowstyle='-|>',
                                   mutation_scale=13, lw=2, color='black'))
    for i, t in enumerate(lines):
        fig.text(1163 / W, 1 - (y0 + 29 * i) / H, t, ha='left', va='baseline', fontsize=17.5)

fig.savefig('out.png', dpi=100)
